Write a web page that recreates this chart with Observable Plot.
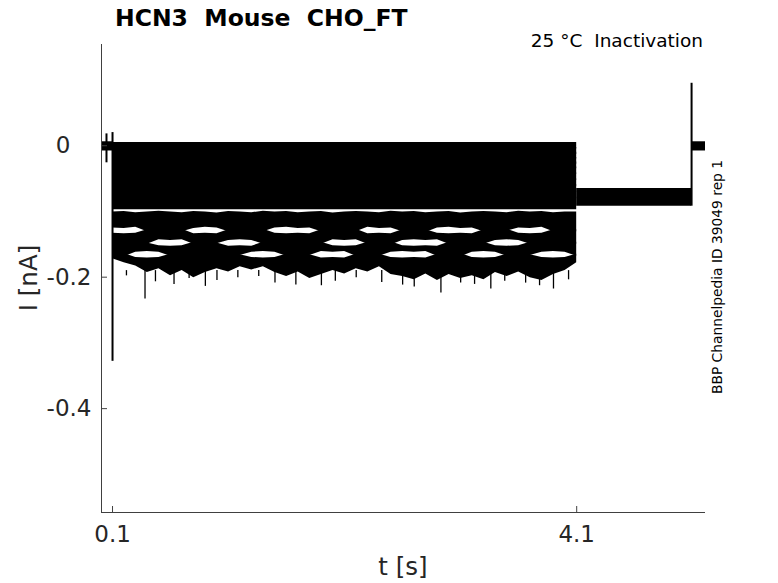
<!DOCTYPE html>
<html><head><meta charset="utf-8">
<script src="https://cdn.jsdelivr.net/npm/d3@7"></script>
<script src="https://cdn.jsdelivr.net/npm/@observablehq/plot@0.6"></script>
<style>
html,body{margin:0;padding:0;background:#fff;}
svg{font-family:"DejaVu Sans",sans-serif;}
</style>
</head><body><div id="chart"></div>
<script>
// ---- axes ----
const xTicks = [0.1, 4.1];
const yTicks = [0, -0.2, -0.4];
const xDomain = [0.005, 5.21];
const yDomain = [-0.558, 0.154];

// ---- segment times (s) ----
const preTimes = [0.005, 0.1];
const pulseTimes = [0.1, 4.1];
const tailTimes = [4.1, 5.09];
const postTimes = [5.09, 5.21];

// holding current before/after (nA): noise envelope
const holdHigh = 0.006;
const holdLow = -0.008;
// current during the step after the pulse (nA)
const tailHigh = -0.065;
const tailLow = -0.092;

// quiet sweeps during the pulse: level and noise half-width (nA)
const quietLevels = [0.000, -0.008, -0.015, -0.023, -0.030, -0.038, -0.047, -0.056, -0.065, -0.075, -0.084, -0.093];
const quietNoise  = [0.0048, 0.0052, 0.0052, 0.0052, 0.0052, 0.0055, 0.0055, 0.0055, 0.0058, 0.0058, 0.0058, 0.0045];

// noisy sweeps during the pulse: envelope at sample times (nA)
const noisyTimes = [0.1, 0.2, 0.3, 0.4, 0.5, 0.6, 0.7, 0.8, 0.9, 1.0, 1.1, 1.2, 1.3, 1.4, 1.5, 1.6, 1.7, 1.8, 1.9, 2.0, 2.1, 2.2, 2.3, 2.4, 2.5, 2.6, 2.7, 2.8, 2.9, 3.0, 3.1, 3.2, 3.3, 3.4, 3.5, 3.6, 3.7, 3.8, 3.9, 4.0, 4.1];
const sweepAHigh = [-0.101,-0.100,-0.102,-0.101,-0.0995,-0.101,-0.102,-0.100,-0.101,-0.1025,-0.100,-0.101,-0.102,-0.0995,-0.101,-0.100,-0.102,-0.101,-0.100,-0.1025,-0.101,-0.100,-0.101,-0.102,-0.0995,-0.101,-0.100,-0.102,-0.101,-0.100,-0.1025,-0.101,-0.100,-0.101,-0.102,-0.0995,-0.101,-0.100,-0.102,-0.101,-0.101];
const sweepALow  = [-0.125,-0.126,-0.124,-0.131,-0.132,-0.130,-0.131,-0.126,-0.124,-0.125,-0.131,-0.130,-0.132,-0.131,-0.125,-0.124,-0.126,-0.125,-0.131,-0.132,-0.130,-0.131,-0.124,-0.126,-0.125,-0.131,-0.130,-0.132,-0.125,-0.124,-0.126,-0.125,-0.131,-0.132,-0.130,-0.125,-0.126,-0.124,-0.131,-0.130,-0.131];
const sweepBHigh = [-0.133,-0.134,-0.133,-0.128,-0.129,-0.128,-0.127,-0.134,-0.133,-0.134,-0.128,-0.129,-0.128,-0.127,-0.133,-0.134,-0.133,-0.134,-0.128,-0.129,-0.128,-0.127,-0.134,-0.133,-0.134,-0.128,-0.129,-0.128,-0.133,-0.134,-0.133,-0.134,-0.128,-0.129,-0.127,-0.133,-0.134,-0.133,-0.128,-0.129,-0.128];
const sweepBLow  = [-0.150,-0.151,-0.149,-0.150,-0.143,-0.144,-0.143,-0.150,-0.151,-0.149,-0.144,-0.143,-0.144,-0.150,-0.151,-0.149,-0.150,-0.151,-0.150,-0.143,-0.144,-0.143,-0.150,-0.149,-0.151,-0.144,-0.143,-0.144,-0.143,-0.150,-0.151,-0.149,-0.150,-0.144,-0.143,-0.144,-0.150,-0.151,-0.149,-0.150,-0.150];
const sweepCHigh = [-0.147,-0.146,-0.147,-0.148,-0.152,-0.153,-0.152,-0.147,-0.146,-0.148,-0.153,-0.152,-0.153,-0.147,-0.146,-0.147,-0.148,-0.146,-0.147,-0.152,-0.153,-0.152,-0.147,-0.148,-0.146,-0.152,-0.153,-0.152,-0.153,-0.147,-0.146,-0.148,-0.147,-0.152,-0.153,-0.152,-0.147,-0.146,-0.148,-0.147,-0.147];
const sweepCLow  = [-0.168,-0.169,-0.162,-0.161,-0.162,-0.168,-0.169,-0.167,-0.168,-0.169,-0.168,-0.167,-0.162,-0.161,-0.162,-0.168,-0.169,-0.167,-0.161,-0.162,-0.161,-0.168,-0.169,-0.168,-0.162,-0.161,-0.162,-0.161,-0.168,-0.167,-0.169,-0.162,-0.161,-0.162,-0.168,-0.169,-0.167,-0.162,-0.161,-0.162,-0.168];
const sweepDHigh = [-0.165,-0.164,-0.170,-0.171,-0.170,-0.165,-0.164,-0.166,-0.165,-0.164,-0.165,-0.166,-0.170,-0.171,-0.170,-0.165,-0.164,-0.166,-0.171,-0.170,-0.171,-0.165,-0.164,-0.165,-0.170,-0.171,-0.170,-0.171,-0.165,-0.166,-0.164,-0.170,-0.171,-0.170,-0.165,-0.164,-0.166,-0.170,-0.171,-0.170,-0.165];
const sweepDLow  = [-0.172,-0.178,-0.183,-0.193,-0.187,-0.198,-0.190,-0.201,-0.193,-0.187,-0.192,-0.184,-0.189,-0.184,-0.193,-0.199,-0.192,-0.202,-0.196,-0.190,-0.195,-0.187,-0.192,-0.184,-0.196,-0.199,-0.204,-0.195,-0.205,-0.196,-0.202,-0.198,-0.204,-0.193,-0.199,-0.192,-0.201,-0.205,-0.196,-0.190,-0.178];

// downward spikes of the deepest sweep
const dipLevel = -0.19;
const dipTimes  = [0.22, 0.38, 0.47, 0.63, 0.76, 0.90, 1.00, 1.18, 1.36, 1.50, 1.68, 1.90, 2.02, 2.20, 2.42, 2.60, 2.70, 2.93, 3.10, 3.22, 3.36, 3.48, 3.66, 3.78, 3.90, 4.03];
const dipValues = [-0.198, -0.233, -0.207, -0.211, -0.202, -0.214, -0.205, -0.201, -0.199, -0.209, -0.212, -0.213, -0.206, -0.201, -0.208, -0.212, -0.215, -0.224, -0.209, -0.211, -0.218, -0.206, -0.209, -0.213, -0.218, -0.204];

// capacitive transients
const transientTimes = [0.048, 0.1, 5.09];
const transientHigh  = [0.018, 0.020, 0.095];
const transientLow   = [-0.026, -0.328, -0.092];

// ---- build tables ----
const bands = [];
let id = 0;
[preTimes, postTimes].forEach(ts => { ts.forEach(t => bands.push({sweep: id, t, lo: holdLow, hi: holdHigh})); id++; });
tailTimes.forEach(t => bands.push({sweep: id, t, lo: tailLow, hi: tailHigh})); id++;
quietLevels.forEach((lvl, i) => { pulseTimes.forEach(t => bands.push({sweep: id, t, lo: lvl - quietNoise[i], hi: lvl + quietNoise[i]})); id++; });
[[sweepAHigh, sweepALow], [sweepBHigh, sweepBLow], [sweepCHigh, sweepCLow], [sweepDHigh, sweepDLow]].forEach(([hi, lo]) => {
  noisyTimes.forEach((t, j) => bands.push({sweep: id, t, lo: lo[j], hi: hi[j]})); id++;
});
const dips = dipTimes.map((t, i) => ({t, y1: dipLevel, y2: dipValues[i]}));
const transients = transientTimes.map((t, i) => ({t, y1: transientHigh[i], y2: transientLow[i]}));

const axisColor = "#404040";
const textColor = "#262626";

const chart = Plot.plot({
  width: 778, height: 583,
  marginLeft: 101, marginRight: 73, marginTop: 44, marginBottom: 71,
  x: {domain: xDomain},
  y: {domain: yDomain},
  style: {fontFamily: "DejaVu Sans", fontSize: "23px", color: textColor, background: "white"},
  marks: [
    Plot.areaY(bands, {x: "t", y1: "lo", y2: "hi", z: "sweep", fill: "black", curve: "linear"}),
    Plot.ruleX(dips, {x: "t", y1: "y1", y2: "y2", stroke: "black", strokeWidth: 1.3}),
    Plot.ruleX(transients, {x: "t", y1: "y1", y2: "y2", stroke: "black", strokeWidth: 2}),
    // axis lines (left and bottom only)
    Plot.ruleX([xDomain[0]], {stroke: axisColor, strokeWidth: 1}),
    Plot.ruleY([yDomain[0]], {stroke: axisColor, strokeWidth: 1}),
    // inward ticks
    Plot.axisX(xTicks, {tickSize: 6, dy: -6, tickFormat: () => "", label: null, stroke: axisColor}),
    Plot.axisY(yTicks, {tickSize: 6, dx: 6, tickFormat: () => "", label: null, stroke: axisColor}),
    // tick labels
    Plot.axisX(xTicks, {tickSize: 0, tickPadding: 13, tickFormat: d => String(d), label: null, fontSize: 23, fill: textColor}),
    Plot.axisY(yTicks.filter(d => d !== 0), {tickSize: 0, tickPadding: 10, tickFormat: d => String(d), label: null, fontSize: 23, fill: textColor}),
    Plot.axisY(yTicks.filter(d => d === 0), {tickSize: 0, tickPadding: 31, tickFormat: d => String(d), label: null, fontSize: 23, fill: textColor})
  ]
});
document.getElementById("chart").appendChild(chart);

const svg = d3.select(chart);
svg.append("text").attr("x", 115).attr("y", 26).attr("text-anchor", "start").attr("font-size", 23.5).attr("font-weight", "bold")
  .attr("fill", "black").style("white-space", "pre").text("HCN3  Mouse  CHO_FT");
svg.append("text").attr("x", 703).attr("y", 47).attr("text-anchor", "end").attr("font-size", 18.5)
  .attr("fill", "black").style("white-space", "pre").text("25 °C  Inactivation");
svg.append("text").attr("transform", "translate(722,277) rotate(-90)").attr("text-anchor", "middle")
  .attr("font-size", 13.8).attr("fill", "black").text("BBP Channelpedia ID 39049 rep 1");
svg.append("text").attr("x", 403).attr("y", 575).attr("text-anchor", "middle").attr("font-size", 24.5)
  .attr("fill", textColor).text("t [s]");
svg.append("text").attr("transform", "translate(37,278) rotate(-90)").attr("text-anchor", "middle")
  .attr("font-size", 24.5).attr("fill", textColor).text("I [nA]");
</script>
</body></html>
